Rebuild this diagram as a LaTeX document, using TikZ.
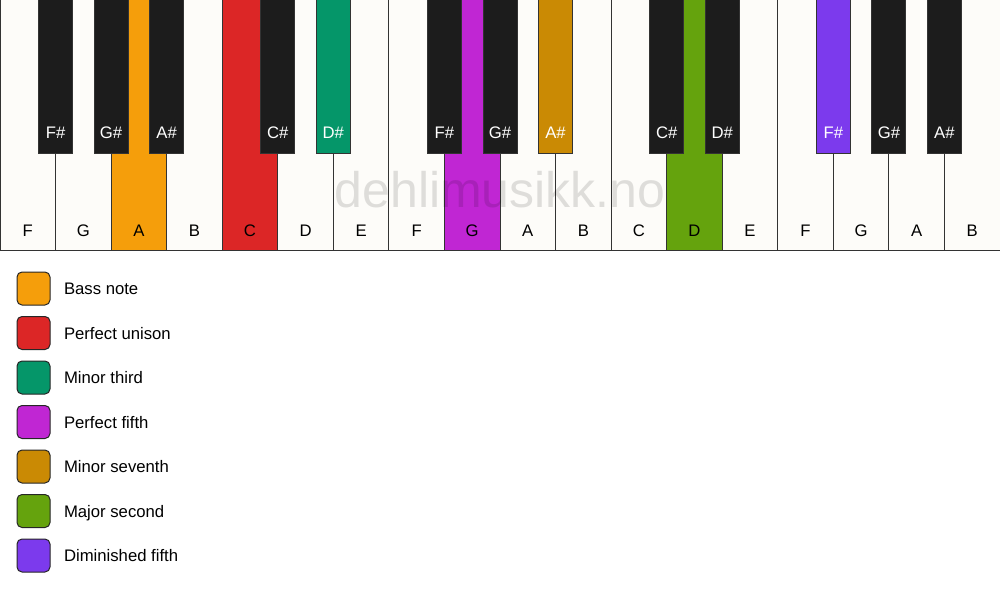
\documentclass[tikz,border=0pt]{standalone}
\usepackage{fontspec}
\setmainfont{Liberation Sans}
\usetikzlibrary{positioning}
\definecolor{keywhite}{HTML}{FDFCF9}
\definecolor{keyblack}{HTML}{1C1C1C}
\definecolor{keyline}{HTML}{333333}
\definecolor{bassnote}{HTML}{F59E0B}
\definecolor{unison}{HTML}{DC2626}
\definecolor{minthird}{HTML}{059669}
\definecolor{perffifth}{HTML}{C026D3}
\definecolor{minseventh}{HTML}{CA8A04}
\definecolor{majsecond}{HTML}{65A30D}
\definecolor{dimfifth}{HTML}{7C3AED}

\begin{document}
\begin{tikzpicture}
[x=1pt, y=-1pt,
key_white/.style ={rectangle, draw=keyline, line width=1pt, minimum width=55.56pt, minimum height=250pt, anchor=north west, inner sep=0, outer sep=0},
key_black/.style ={rectangle, draw=keyline, line width=1pt, minimum width=34pt, minimum height=153pt, anchor=north, inner sep=0, outer sep=0},
text_white/.style ={inner sep=0, outer sep=0, text depth=0pt, font=\fontsize{16.7}{20}\selectfont, text=black},
text_black/.style ={text_white, text=white},
swatch/.style ={rectangle, draw=black!85, line width=1pt, rounded corners=5pt, minimum size=33pt, inner sep=0, outer sep=0},
legend/.style ={text_white, anchor=west},
watermark/.style ={anchor=base, inner sep=0, font=\fontsize{50}{60}\selectfont, text=black, text opacity=.12}
]
\useasboundingbox (0,0) rectangle (1000,594);

%%%White keys%%%
\foreach \n/\c [count=\i] in {F/keywhite, G/keywhite, A/bassnote, B/keywhite, C/unison, D/keywhite, E/keywhite, F/keywhite, G/perffifth, A/keywhite, B/keywhite, C/keywhite, D/majsecond, E/keywhite, F/keywhite, G/keywhite, A/keywhite, B/keywhite}
{
\node [key_white, fill=\c] (w\i) at ({(\i-1)*55.5556},0) {};
\node [text_white, above=14pt of w\i.south] (wl\i) {\n};
}

%%%Watermark%%%
\node [watermark] (mark) at (500,207) {dehlimusikk.no};

%%%Black keys%%%
\foreach \p/\n/\c [count=\i] in {1/F\#/keyblack, 2/G\#/keyblack, 3/A\#/keyblack, 5/C\#/keyblack, 6/D\#/minthird, 8/F\#/keyblack, 9/G\#/keyblack, 10/A\#/minseventh, 12/C\#/keyblack, 13/D\#/keyblack, 15/F\#/dimfifth, 16/G\#/keyblack, 17/A\#/keyblack}
{
\node [key_black, fill=\c] (b\i) at ({\p*55.5556},0) {};
\node [text_black, above=15pt of b\i.south] (bl\i) {\n};
}

%%%Legend%%%
\node [swatch, fill=bassnote] (s1) at (33.5,288.5) {};
\node [swatch, fill=unison, below=11.5pt of s1] (s2) {};
\node [swatch, fill=minthird, below=11.5pt of s2] (s3) {};
\node [swatch, fill=perffifth, below=11.5pt of s3] (s4) {};
\node [swatch, fill=minseventh, below=11.5pt of s4] (s5) {};
\node [swatch, fill=majsecond, below=11.5pt of s5] (s6) {};
\node [swatch, fill=dimfifth, below=11.5pt of s6] (s7) {};

\node [legend, right=14pt of s1] (t1) {Bass note};
\node [legend, right=14pt of s2] (t2) {Perfect unison};
\node [legend, right=14pt of s3] (t3) {Minor third};
\node [legend, right=14pt of s4] (t4) {Perfect fifth};
\node [legend, right=14pt of s5] (t5) {Minor seventh};
\node [legend, right=14pt of s6] (t6) {Major second};
\node [legend, right=14pt of s7] (t7) {Diminished fifth};

\end{tikzpicture}
\end{document}
